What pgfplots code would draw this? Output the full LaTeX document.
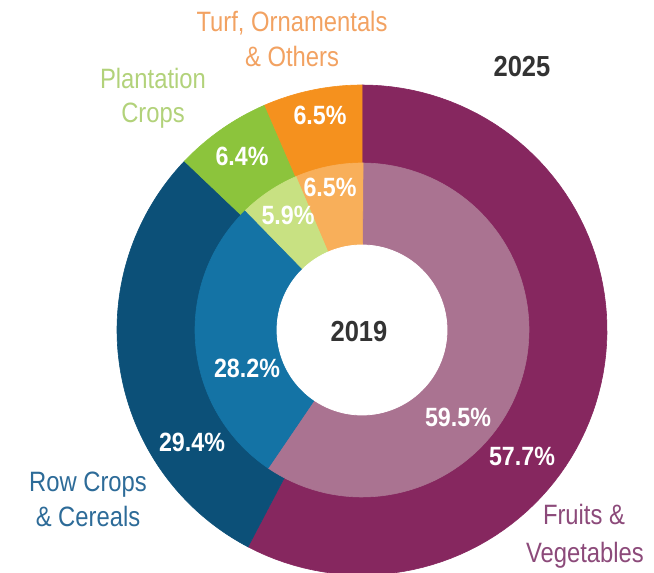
\documentclass[border=0pt]{standalone}
\usepackage{pgfplots}
\usepackage{pgfplotstable}
\pgfplotsset{compat=1.18}
\usepackage{fontspec}
\setmainfont{Liberation Sans}
\newfontfamily\labfont{Liberation Sans}[FakeStretch=0.85]
\newfontfamily\numfont{Liberation Sans}[FakeStretch=0.88]

% outer ring (2025)
\definecolor{oc0}{HTML}{86275F}
\definecolor{oc1}{HTML}{0C5078}
\definecolor{oc2}{HTML}{8CC43C}
\definecolor{oc3}{HTML}{F5911E}
% inner ring (2019)
\definecolor{ic0}{HTML}{AA7391}
\definecolor{ic1}{HTML}{1473A5}
\definecolor{ic2}{HTML}{C8E182}
\definecolor{ic3}{HTML}{F8AF5A}
% label colours
\definecolor{txtorange}{HTML}{F2A262}
\definecolor{txtgreen}{HTML}{B2D27A}
\definecolor{txtblue}{HTML}{2D6B98}
\definecolor{txtpurple}{HTML}{8C4A7A}
\definecolor{txtdark}{HTML}{333333}

% shares in percent, clockwise from 12 o'clock
\pgfplotstableread{
seg  y2019 y2025
0    59.5  57.7
1    28.2  29.4
2    5.9   6.4
3    6.5   6.5
}\shares

\begin{document}
\begin{tikzpicture}
\begin{axis}[
    name=pie,
    x=0.5pt, y=0.5pt,
    xmin=-362, xmax=292,
    ymin=-243, ymax=330,
    hide axis,
    clip=true,
]
% outer ring 2025
\def\angA{90}
\pgfplotsforeachungrouped \i in {0,...,3}{
  \pgfplotstablegetelem{\i}{y2025}\of\shares
  \pgfmathsetmacro\angB{\angA-3.6*\pgfplotsretval}
  \edef\tmp{\noexpand\addplot[fill=oc\i, draw=oc\i, line width=0.3pt,
      domain=\angB:\angA, samples=90, data cs=polar]
      ({x},{245}) -- (axis cs:0,0) -- cycle;}
  \tmp
  \let\angA\angB
}
% inner ring 2019
\def\angA{90}
\pgfplotsforeachungrouped \i in {0,...,3}{
  \pgfplotstablegetelem{\i}{y2019}\of\shares
  \pgfmathsetmacro\angB{\angA-3.6*\pgfplotsretval}
  \edef\tmp{\noexpand\addplot[fill=ic\i, draw=ic\i, line width=0.3pt,
      domain=\angB:\angA, samples=90, data cs=polar]
      ({x},{167}) -- (axis cs:0,0) -- cycle;}
  \tmp
  \let\angA\angB
}
% hole
\addplot[fill=white, draw=white, domain=0:360, samples=120, data cs=polar]
  ({x},{85}) -- cycle;

% value labels
\begin{scope}[every node/.style={font=\numfont\bfseries\fontsize{13.2}{14}\selectfont,
    text=white, inner sep=0pt}]
\node at (axis cs:-42,215) {6.5\%};
\node at (axis cs:-120,174) {6.4\%};
\node at (axis cs:-170,-112) {29.4\%};
\node at (axis cs:160,-126) {57.7\%};
\node at (axis cs:-32,143) {6.5\%};
\node at (axis cs:-74,115) {5.9\%};
\node at (axis cs:-115,-38) {28.2\%};
\node at (axis cs:96,-87) {59.5\%};
\end{scope}

\begin{scope}[every node/.style={font=\numfont\bfseries\fontsize{14.5}{16}\selectfont,
    text=txtdark, inner sep=0pt}]
\node at (axis cs:-3,-2) {2019};
\node at (axis cs:160,263) {2025};
\end{scope}

% category labels
\begin{scope}[every node/.style={font=\labfont\fontsize{14}{16}\selectfont,
    inner sep=0pt, anchor=base}]
\node[text=txtorange] at (axis cs:-70,298) {Turf, Ornamentals};
\node[text=txtorange] at (axis cs:-70,263) {\& Others};
\node[text=txtgreen] at (axis cs:-209,241) {Plantation};
\node[text=txtgreen] at (axis cs:-209,207) {Crops};
\node[text=txtblue] at (axis cs:-274,-162) {Row Crops};
\node[text=txtblue] at (axis cs:-274,-197) {\& Cereals};
\node[text=txtpurple] at (axis cs:222,-195) {Fruits \&};
\node[text=txtpurple] at (axis cs:223,-233) {Vegetables};
\end{scope}
\end{axis}
\pgfresetboundingbox
\path[use as bounding box] (pie.south west) rectangle (pie.north east);
\end{tikzpicture}
\end{document}
